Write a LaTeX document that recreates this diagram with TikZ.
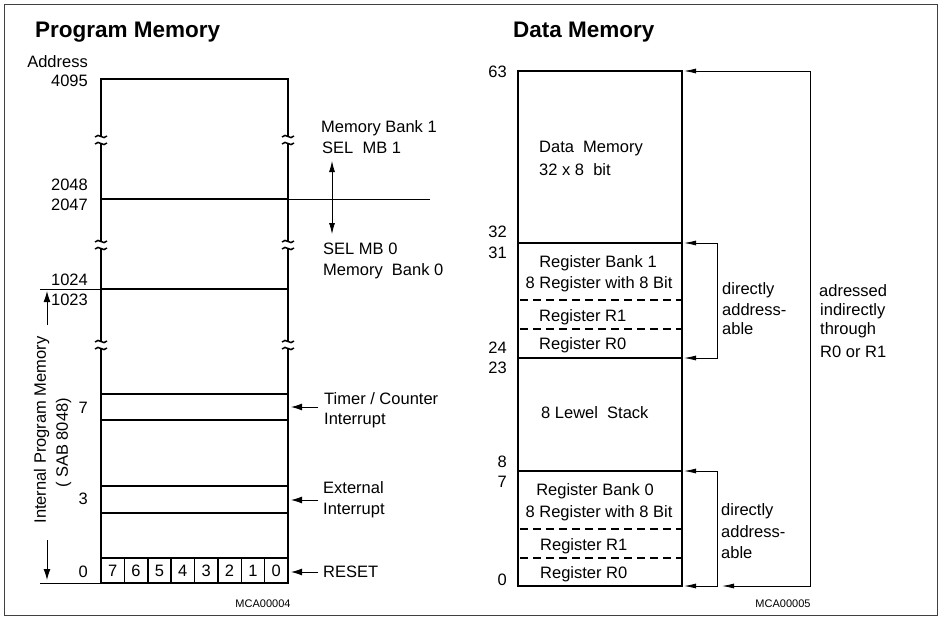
\documentclass[tikz,border=0pt]{standalone}
\usepackage{fontspec}
\setmainfont{Liberation Sans}
\usetikzlibrary{arrows.meta}
\begin{document}
\begin{tikzpicture}[x=1pt,y=-1pt,
  lbl/.style={font=\fontsize{16.5}{18}\selectfont, inner sep=0pt, text height=11.8pt, text depth=0pt},
  lw/.style={lbl, anchor=west},
  le/.style={lbl, anchor=east},
  lc/.style={lbl, anchor=center},
  ttl/.style={font=\bfseries\fontsize{22.5}{24}\selectfont, inner sep=0pt, anchor=west},
  code/.style={font=\fontsize{11}{12}\selectfont, inner sep=0pt},
  boxln/.style={line width=2.2pt},
  sepln/.style={line width=1.5pt},
  thinln/.style={line width=0.7pt},
  arr/.style={-{Latex[length=11pt,width=7pt]}, line width=1pt},
  arrb/.style={{Latex[length=11pt,width=6pt]}-{Latex[length=11pt,width=6pt]}, line width=0.8pt},
  arrs/.style={{Latex[length=12pt,width=5pt]}-{Latex[length=12pt,width=5pt]}, line width=0.8pt},
  dsh/.style={line width=1.5pt, dash pattern=on 8pt off 5pt},
  brk/.style={line width=1.5pt},
]
\useasboundingbox (0,0) rectangle (941,618);
\draw[line width=1pt, black!75] (4,5) rectangle (937,615);

% ---------------- Program Memory ----------------
\node[ttl] (pmtitle) at (35,32) {Program Memory};

% verticals with breaks
\foreach \xx in {101,288} {
  \draw[boxln] (\xx,78) -- (\xx,136);
  \draw[boxln] (\xx,144) -- (\xx,241);
  \draw[boxln] (\xx,249) -- (\xx,341);
  \draw[boxln] (\xx,349) -- (\xx,584);
  \foreach \yy in {140,245,345} {
    \draw[brk] (\xx-6,\yy-3) .. controls (\xx-2,\yy-8) and (\xx+2,\yy+1) .. (\xx+6,\yy-4);
    \draw[brk] (\xx-6,\yy+4) .. controls (\xx-2,\yy-1) and (\xx+2,\yy+8) .. (\xx+6,\yy+3);
  }
}
\draw[boxln] (100,79) -- (289,79);
\draw[boxln] (100,583) -- (289,583);
\draw[sepln] (101,199) -- (288,199);
\draw[thinln] (288,199) -- (430,199);
\draw[sepln] (101,289) -- (288,289);
\draw[thinln] (40,289) -- (101,289);
\draw[thinln] (40,583) -- (101,583);
\foreach \yy in {394,420,486,513} { \draw[sepln] (101,\yy) -- (288,\yy); }
\draw[sepln] (101,558) -- (288,558);
\foreach \k in {1,...,7} { \draw[sepln] (101+\k*23.375,558) -- (101+\k*23.375,583); }
\foreach \k/\v in {0/7,1/6,2/5,3/4,4/3,5/2,6/1,7/0} {
  \node[lc] (bit\v) at (101+\k*23.375+11.7,571) {\v};
}

% address labels
\node[le] (addr) at (88,62) {Address};
\node[le] (a4095) at (88,81) {4095};
\node[le] (a2048) at (88,185) {2048};
\node[le] (a2047) at (88,205) {2047};
\node[le] (a1024) at (88,280) {1024};
\node[le] (a1023) at (88,300) {1023};
\node[le] (a7) at (88,408) {7};
\node[le] (a3) at (88,499) {3};
\node[le] (a0) at (88,572) {0};

% internal program memory arrow
\node[lc, rotate=90] (ipm) at (40,430) {Internal Program Memory};
\node[lc, rotate=90] (sab) at (62,443) {( SAB 8048)};
\coordinate (ipmtop) at (47,325);
\coordinate (ipmtopend) at (47,291);
\coordinate (ipmbot) at (47,540);
\coordinate (ipmbotend) at (47,580);
\draw[arr] (ipmtop) -- (ipmtopend);
\draw[arr] (ipmbot) -- (ipmbotend);

% right side labels
\node[lw] (mb1) at (321,127) {Memory Bank 1};
\node[lw] (sel1) at (322,148) {SEL \ MB 1};
\node[lw] (sel0) at (323,249) {SEL MB 0};
\node[lw] (mb0) at (323,270) {Memory \ Bank 0};
\coordinate (selup) at (332,161);
\coordinate (seldn) at (332,234);
\draw[arrb] (selup) -- (seldn);

\node[lw] (tc) at (324,399) {Timer / Counter};
\node[lw] (tci) at (324,419) {Interrupt};
\coordinate (tcs) at (318,407);
\coordinate (tce) at (291,407);
\draw[arr] (tcs) -- (tce);

\node[lw] (ext) at (323,488) {External};
\node[lw] (exti) at (323,509) {Interrupt};
\coordinate (exs) at (318,500);
\coordinate (exe) at (291,500);
\draw[arr] (exs) -- (exe);

\node[lw] (reset) at (323,572) {RESET};
\coordinate (rss) at (318,572);
\coordinate (rse) at (291,572);
\draw[arr] (rss) -- (rse);

\node[code] (mca4) at (263,604) {MCA00004};

% ---------------- Data Memory ----------------
\node[ttl] (dmtitle) at (513,32) {Data Memory};
\draw[boxln] (518,71) rectangle (682,586);
\draw[sepln] (518,243) -- (682,243);
\draw[sepln] (518,358) -- (682,358);
\draw[sepln] (518,471) -- (682,471);
\foreach \yy in {300,329,529,558} { \draw[dsh] (520,\yy) -- (682,\yy); }

\node[le] (d63) at (507,72) {63};
\node[le] (d32) at (507,232) {32};
\node[le] (d31) at (507,253) {31};
\node[le] (d24) at (507,348) {24};
\node[le] (d23) at (507,368) {23};
\node[le] (d8) at (507,462) {8};
\node[le] (d7) at (507,482) {7};
\node[le] (d0) at (507,580) {0};

\node[lw] (dm1) at (539,147) {Data \ Memory};
\node[lw] (dm2) at (539,170) {32 x 8 \ bit};
\node[lc] (rb1) at (598,262) {Register Bank 1};
\node[lc] (rb1b) at (599,283) {8 Register with 8 Bit};
\node[lw] (r1a) at (539,316) {Register R1};
\node[lw] (r0a) at (539,344) {Register R0};
\node[lw] (stk) at (541,413) {8 Lewel \ Stack};
\node[lc] (rb0) at (595,490) {Register Bank 0};
\node[lc] (rb0b) at (599,512) {8 Register with 8 Bit};
\node[lw] (r1b) at (540,545) {Register R1};
\node[lw] (r0b) at (540,573) {Register R0};

% brackets
\coordinate (b1t) at (684,243);
\coordinate (b1b) at (684,358);
\draw[arrs] (b1t) -- (717,243) -- (717,358) -- (b1b);
\coordinate (b2t) at (684,471);
\coordinate (b2b) at (684,586);
\draw[arrs] (b2t) -- (717,471) -- (717,586) -- (b2b);
\coordinate (b3t) at (684,71);
\coordinate (b3b) at (722,586);
\draw[arrs] (b3t) -- (810,71) -- (810,586) -- (b3b);

\node[lw] (da1) at (722,289) {directly};
\node[lw] (da2) at (722,310) {address-};
\node[lw] (da3) at (722,329) {able};
\node[lw] (db1) at (721,510) {directly};
\node[lw] (db2) at (721,532) {address-};
\node[lw] (db3) at (721,553) {able};
\node[lw] (ind1) at (819,291) {adressed};
\node[lw] (ind2) at (820,310) {indirectly};
\node[lw] (ind3) at (820,329) {through};
\node[lw] (ind4) at (820,352) {R0 or R1};

\node[code] (mca5) at (783,604) {MCA00005};
\end{tikzpicture}
\end{document}
